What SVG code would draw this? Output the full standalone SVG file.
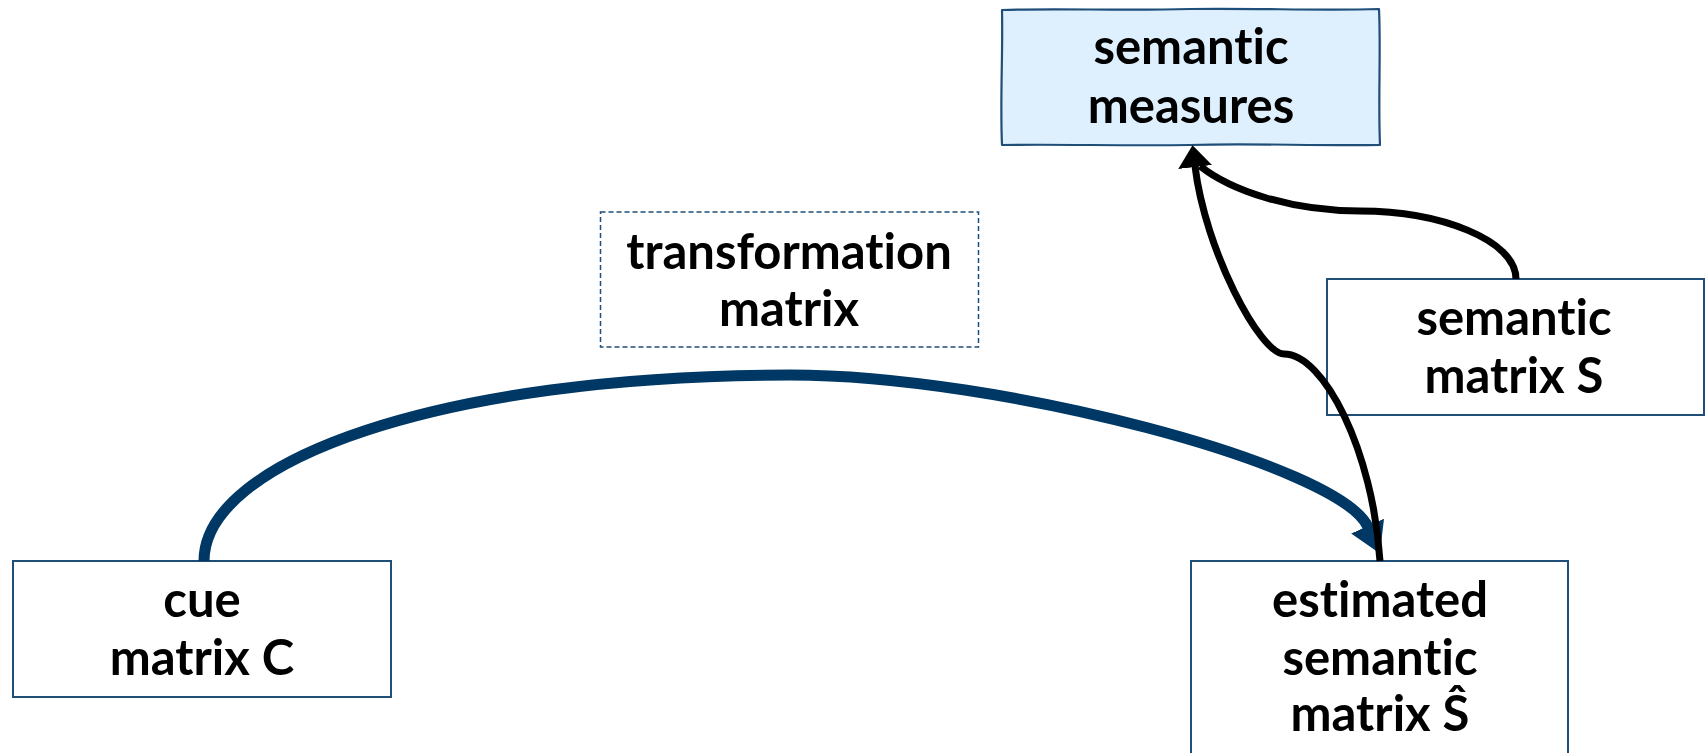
<svg xmlns="http://www.w3.org/2000/svg" width="1707" height="753" viewBox="0 0 1707 753">
  <defs>
    <style>
      .box { fill: #ffffff; stroke: #1f4e79; stroke-width: 2; }
      .dash { fill: #ffffff; stroke: #1f4e79; stroke-width: 1.5; stroke-dasharray: 5 3; }
      .sketch { fill: #def0fd; stroke: #1f4e79; stroke-width: 2.2; stroke-linejoin: round; }
      .lbl { font-family: Lato, "Noto Sans", sans-serif; font-weight: bold; font-size: 49px; fill: #000000; text-anchor: middle; font-variant-ligatures: none; font-feature-settings: "liga" 0, "clig" 0, "dlig" 0; }
      .blk { fill: none; stroke: #000000; stroke-width: 7; }
      .blue { fill: none; stroke: #003865; stroke-width: 11; }
    </style>
    <marker id="ahBlue" markerUnits="userSpaceOnUse" viewBox="0 0 30 36" refX="1" refY="18" markerWidth="30" markerHeight="36" orient="auto">
      <path d="M0,0 L30,18 L0,36 z" fill="#003865"/>
    </marker>
    <marker id="ahBlack" markerUnits="userSpaceOnUse" viewBox="0 0 22 34" refX="1" refY="17" markerWidth="22" markerHeight="34" orient="auto">
      <path d="M0,0 L22,17 L0,34 z" fill="#000000"/>
    </marker>
  </defs>

  <g id="node-measures">
    <path class="sketch" d="M1002,10 C1060,8 1120,11 1190,9 C1260,8 1320,11 1379,9 C1381,50 1378,100 1380,145 C1310,146 1250,143 1190,145 C1120,146 1060,144 1002,145 C1000,100 1003,55 1002,10 z"/>
    <text class="lbl" x="1191" y="64">semantic</text>
    <text class="lbl" x="1191" y="123">measures</text>
  </g>

  <g id="node-transformation">
    <rect class="dash" x="600.5" y="212" width="378" height="135"/>
    <text class="lbl" x="789" y="269">transformation</text>
    <text class="lbl" x="789" y="326">matrix</text>
  </g>

  <g id="node-semantic-S">
    <rect class="box" x="1327" y="279" width="377" height="136"/>
    <text class="lbl" x="1514" y="335">semantic</text>
    <text class="lbl" x="1514" y="393">matrix S</text>
  </g>

  <g id="node-cue">
    <rect class="box" x="13" y="561" width="378" height="136"/>
    <text class="lbl" x="202" y="617">cue</text>
    <text class="lbl" x="202" y="675">matrix C</text>
  </g>

  <g id="node-estimated">
    <rect class="box" x="1191" y="561" width="377" height="200"/>
    <text class="lbl" x="1380" y="617">estimated</text>
    <text class="lbl" x="1380" y="675">semantic</text>
    <text class="lbl" x="1380" y="731">matrix Ŝ</text>
  </g>

  <g id="connectors">
    <path class="blue" d="M204,561 C204,461 440,375 790,375 C1000,375 1340,465 1368,527" marker-end="url(#ahBlue)"/>
    <path class="blk" d="M1516,279 C1516,240 1440,211 1360,211 C1290,211 1230,190 1200,166"/>
    <path class="blk" d="M1380,561 C1373,451 1324,354 1284,354 C1260,354 1205,250 1195,166" marker-end="url(#ahBlack)"/>
  </g>
</svg>
